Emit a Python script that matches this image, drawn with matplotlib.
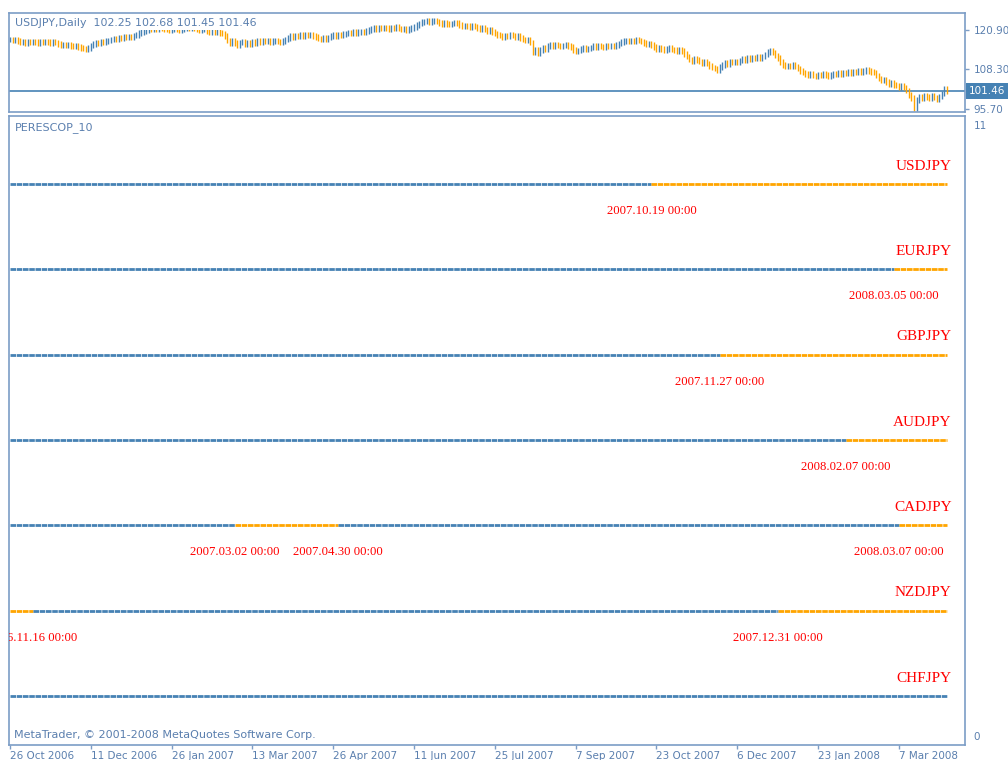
import numpy as np
import pandas as pd
import matplotlib
matplotlib.use('Agg')
import matplotlib.pyplot as plt

# USDJPY daily closes (one per bar)
closes = [
    117.9, 117.6, 117.8, 117.3, 117.0, 117.2, 116.8, 117.1, 116.9, 117.2, 117.0, 116.7,
    117.1, 116.9, 117.2, 117.0, 116.8, 117.1, 116.9, 116.4, 116.0, 116.2, 115.9, 116.1,
    115.8, 115.6, 115.9, 115.4, 115.2, 115.0, 114.7, 115.1, 116.0, 116.4, 116.8, 116.6,
    117.0, 116.9, 117.3, 117.6, 117.9, 118.2, 118.0, 118.4, 118.3, 118.6, 118.5, 118.8,
    118.7, 119.1, 119.4, 119.9, 120.3, 120.6, 120.9, 121.2, 121.0, 121.4, 121.3, 121.6,
    121.5, 121.2, 121.0, 120.8, 121.1, 121.3, 121.0, 120.7, 121.0, 121.4, 121.7, 121.5,
    121.8, 121.6, 121.2, 120.9, 121.1, 121.4, 120.6, 120.3, 120.6, 120.2, 120.5, 120.0,
    119.8, 118.9, 117.5, 116.6, 117.3, 116.8, 116.2, 116.9, 117.2, 116.5, 116.8, 116.4,
    117.0, 116.7, 117.3, 117.1, 117.5, 117.2, 117.4, 117.0, 117.3, 117.6, 117.2, 116.9,
    117.4, 117.9, 118.4, 118.9, 118.7, 119.1, 118.9, 119.2, 119.0, 119.3, 119.1, 119.4,
    119.0, 118.6, 118.2, 118.0, 118.3, 118.1, 118.5, 118.9, 119.2, 119.0, 119.4, 119.2,
    119.6, 119.8, 120.1, 119.9, 120.3, 120.0, 120.2, 120.4, 120.1, 120.6, 120.9, 121.2,
    121.5, 121.3, 121.6, 121.4, 121.7, 121.5, 121.3, 121.6, 121.5, 121.8, 121.4, 121.1,
    121.3, 120.9, 121.2, 121.6, 121.9, 122.4, 123.0, 123.4, 123.6, 123.8, 123.5, 123.7,
    123.9, 123.6, 123.2, 122.8, 123.1, 122.9, 122.6, 123.0, 123.3, 123.1, 122.5, 122.0,
    122.3, 122.1, 121.9, 122.2, 122.0, 121.6, 121.2, 121.5, 121.0, 120.6, 120.8, 120.3,
    119.8, 119.3, 119.1, 118.7, 119.0, 118.8, 119.3, 119.1, 118.6, 118.9, 118.4, 117.9,
    117.6, 117.8, 116.9, 113.9, 114.5, 113.6, 114.6, 115.1, 114.8, 115.7, 116.2, 115.8,
    116.3, 116.0, 115.6, 115.9, 116.2, 115.8, 115.5, 114.6, 114.1, 114.4, 114.9, 115.1,
    114.7, 115.0, 115.3, 115.7, 115.5, 115.9, 115.6, 115.4, 115.8, 115.6, 116.0, 115.7,
    116.1, 116.6, 117.0, 117.3, 117.5, 117.2, 117.6, 117.4, 117.7, 117.5, 117.2, 116.8,
    116.4, 116.6, 116.1, 115.4, 114.9, 115.2, 114.8, 114.6, 114.9, 115.2, 114.7, 114.5,
    114.2, 114.6, 114.3, 113.2, 112.4, 111.5, 111.0, 111.6, 111.3, 110.9, 110.4, 110.8,
    110.2, 109.5, 108.9, 108.6, 108.2, 109.1, 109.8, 110.4, 110.1, 110.7, 110.5, 110.9,
    110.6, 111.2, 111.6, 111.4, 111.9, 111.6, 112.1, 111.8, 112.3, 112.0, 112.4, 113.1,
    113.8, 114.2, 113.7, 112.8, 111.9, 110.6, 109.8, 109.3, 109.6, 109.4, 109.7, 109.2,
    108.6, 107.9, 107.3, 106.8, 106.5, 106.9, 106.4, 106.2, 106.7, 106.4, 106.8, 106.5,
    106.1, 106.6, 106.9, 106.7, 107.1, 106.8, 107.3, 107.0, 107.4, 107.2, 107.7, 107.5,
    107.9, 107.6, 107.8, 108.1, 107.9, 107.6, 107.3, 106.4, 105.4, 104.8, 105.1, 104.3,
    103.6, 103.9, 103.4, 103.2, 102.8, 103.1, 102.5, 101.6, 100.2, 99.2, 96.0, 98.6,
    99.6, 99.0, 99.9, 99.5, 99.2, 99.8, 99.4, 98.9, 99.7, 100.6, 102.25, 101.46,
]
price_ticks = [120.90, 108.30, 95.70]
last_bar = "USDJPY,Daily  102.25 102.68 101.45 101.46"

# PERESCOP_10 indicator: one level per pair, colour switches at given bars
pairs = ['USDJPY', 'EURJPY', 'GBPJPY', 'AUDJPY', 'CADJPY', 'NZDJPY', 'CHFJPY']
levels = [7, 6, 5, 4, 3, 2, 1]
start_state = [0, 0, 0, 0, 0, 1, 0]   # 0 = blue, 1 = orange
switch_bars = [[254], [350], [281], [331], [89, 130, 352], [9, 304], []]
switch_labels = [['2007.10.19 00:00'], ['2008.03.05 00:00'], ['2007.11.27 00:00'],
                 ['2008.02.07 00:00'],
                 ['2007.03.02 00:00', '2007.04.30 00:00', '2008.03.07 00:00'],
                 ['2006.11.16 00:00', '2007.12.31 00:00'], []]

blue = '#4682B4'
orange = '#FFA500'
frame = '#7C9DC6'
txt = '#5A7FAE'

n = len(closes)
days = pd.bdate_range('2006-10-26', periods=n + 20)
days = days[~(((days.month == 12) & (days.day == 25)) | ((days.month == 1) & (days.day == 1)))][:n]
x = np.arange(n)

fig = plt.figure(figsize=(10.08, 7.6), dpi=100)
ax1 = fig.add_axes([9/1008, 1 - 112/760, 956/1008, 99/760])
ax2 = fig.add_axes([9/1008, 1 - 745/760, 956/1008, 629/760])

# price bars
c = np.array(closes)
o = np.r_[c[0], c[:-1]]
pad = 0.9
hi = np.maximum(o, c) + pad
lo = np.minimum(o, c) - pad
cols = np.where(c >= o, blue, orange)
ax1.vlines(x, lo, hi, colors=cols, lw=1.0, zorder=2)
ax1.axhline(c[-1], color=blue, lw=1.2, zorder=1)
ax1.set_ylim(94.74, 126.32)
ax1.set_xlim(-0.4, 378.2)
ax1.set_xticks([])
ax1.yaxis.tick_right()
ax1.set_yticks(price_ticks)
ax1.set_yticklabels(['%.2f' % v for v in price_ticks])
ax1.tick_params(axis='y', length=3, width=1, color=frame, labelcolor=txt,
                labelsize=7.5, pad=3)
ax1.text(6/956, 0.9, last_bar, transform=ax1.transAxes, fontsize=7.9, color=txt,
         va='center', ha='left', zorder=5,
         bbox=dict(fc='white', ec='none', pad=1.5))
ax1.text(1.004, c[-1], '%.2f' % c[-1], transform=ax1.get_yaxis_transform(),
         fontsize=7.5, color='white', va='center', ha='left', clip_on=False,
         bbox=dict(fc=blue, ec='none', pad=2.2))

# indicator lines
for k, name in enumerate(pairs):
    bounds = [0] + switch_bars[k] + [n - 1]
    state = start_state[k]
    for a, b in zip(bounds[:-1], bounds[1:]):
        ax2.plot([a, b], [levels[k], levels[k]], color=orange if state else blue,
                 lw=2.0, ls=(0, (2.0, 0.25)), solid_capstyle='butt')
        state = 1 - state
    ax2.text(n + 0.9, levels[k] + 0.21, name, color='red', fontsize=11,
             family='Liberation Serif', ha='right', va='center')
    for sb, lab in zip(switch_bars[k], switch_labels[k]):
        ax2.text(sb, levels[k] - 0.316, lab, color='red', fontsize=9.2,
                 family='Liberation Serif', ha='center', va='center', clip_on=True)

ax2.set_ylim(0.426, 7.797)
ax2.set_xlim(-0.4, 378.2)
ax2.yaxis.tick_right()
ax2.set_yticks([7.691, 0.531])
ax2.set_yticklabels(['11', '0'])
ax2.tick_params(axis='y', length=0, labelcolor=txt, labelsize=7.5, pad=6)
tick_pos = list(range(0, n, 32))
ax2.set_xticks(tick_pos)
ax2.set_xticklabels([f"{days[i].day} {days[i].strftime('%b %Y')}" for i in tick_pos])
for lbl in ax2.get_xticklabels():
    lbl.set_ha('left')
ax2.tick_params(axis='x', length=3, width=1, color=frame, labelcolor=txt,
                labelsize=7.5, pad=1)
ax2.text(5/956, 10/629, 'MetaTrader, \u00a9 2001-2008 MetaQuotes Software Corp.',
         transform=ax2.transAxes, fontsize=8, color=txt, va='center', ha='left')
ax2.text(6/956, 1 - 12/629, 'PERESCOP_10', transform=ax2.transAxes, fontsize=8,
         color=txt, va='center', ha='left')

for ax in (ax1, ax2):
    for s in ax.spines.values():
        s.set_color(frame)
        s.set_linewidth(1.2)

fig.savefig('out.png', dpi=100)
